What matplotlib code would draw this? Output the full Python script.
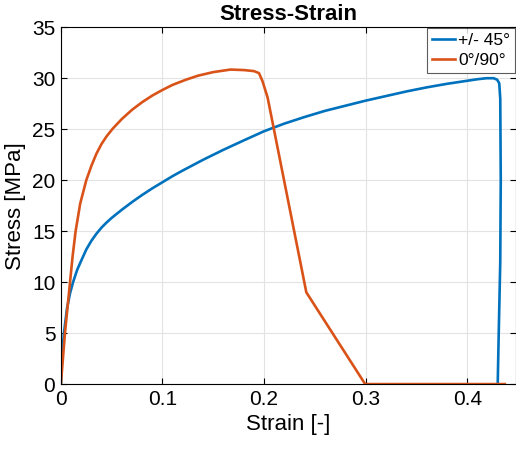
import numpy as np
import matplotlib
matplotlib.use("Agg")
import matplotlib.pyplot as plt

plt.rcParams['font.family'] = ['Liberation Sans', 'DejaVu Sans']

# +/- 45 deg specimen
strain_45 = [0.0, 0.001, 0.003, 0.006, 0.009, 0.012, 0.016, 0.02, 0.025, 0.03, 0.035,
             0.04, 0.045, 0.05, 0.06, 0.07,
             0.08, 0.09, 0.1, 0.11, 0.12, 0.14, 0.16, 0.18, 0.2, 0.22, 0.24, 0.26,
             0.28, 0.3, 0.32, 0.34, 0.36, 0.38, 0.4, 0.41, 0.419, 0.426, 0.4295,
             0.4315, 0.4325, 0.433, 0.4325, 0.431, 0.430]
stress_45 = [0.0, 2.5, 5.0, 7.4, 8.9, 10.0, 11.2, 12.1, 13.2, 14.05, 14.75,
             15.35, 15.85, 16.3, 17.1, 17.85,
             18.55, 19.2, 19.8, 20.4, 20.95, 22.0, 22.98, 23.9, 24.8, 25.55, 26.2, 26.8,
             27.3, 27.8, 28.25, 28.7, 29.1, 29.45, 29.75, 29.9, 30.0, 30.0, 29.85,
             29.5, 28.0, 20.0, 12.0, 5.0, 0.0]

# 0/90 deg specimen
strain_090 = [0.0, 0.002, 0.004, 0.0065, 0.009, 0.0115, 0.0145, 0.019, 0.025, 0.03,
              0.035, 0.04, 0.045, 0.051, 0.06, 0.07, 0.08, 0.09, 0.1, 0.11, 0.123,
              0.135, 0.15, 0.167, 0.18, 0.19, 0.195, 0.1985, 0.2035, 0.2416, 0.2995,
              0.437]
stress_090 = [0.0, 2.5, 5.0, 7.5, 10.0, 12.5, 15.0, 17.7, 20.0, 21.4,
              22.6, 23.55, 24.3, 25.05, 26.0, 26.9, 27.65, 28.3, 28.85, 29.35, 29.85,
              30.25, 30.6, 30.85, 30.8, 30.7, 30.5, 29.7, 28.1, 9.0, 0.0,
              0.0]

fig = plt.figure(figsize=(5.16, 4.54), dpi=100)
ax = fig.add_axes([0.118, 0.154, 0.882, 0.786])
ax.plot(strain_45, stress_45, color='#0072BD', linewidth=1.9, label='+/- 45°')
ax.plot(strain_090, stress_090, color='#D95319', linewidth=1.9, label='0°/90°')

ax.set_xlim(0, 0.448)
ax.set_ylim(0, 35)
ax.set_xticks([0, 0.1, 0.2, 0.3, 0.4])
ax.set_xticklabels(['0', '0.1', '0.2', '0.3', '0.4'])
ax.set_yticks(range(0, 36, 5))
ax.grid(True, color='#e3e3e3', linewidth=0.8)
ax.tick_params(direction='in', top=True, right=True, labelsize=15, length=4, pad=4)
for s in ax.spines.values():
    s.set_linewidth(0.8)
ax.set_xlabel('Strain [-]', fontsize=16)
ax.set_ylabel('Stress [MPa]', fontsize=16)
ax.set_title('Stress-Strain', fontsize=16, fontweight='bold', pad=5)
leg = ax.legend(loc='upper right', fontsize=12.5, frameon=True, fancybox=False,
                borderpad=0.3, handlelength=1.35, handletextpad=0.15, labelspacing=0.25,
                borderaxespad=0.05)
leg.get_frame().set_edgecolor('#333333')
leg.get_frame().set_linewidth(0.8)

fig.savefig('out.png', dpi=100)
